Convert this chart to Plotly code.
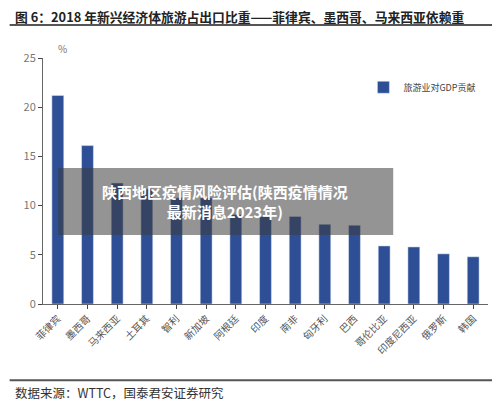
import plotly.graph_objects as go

categories = ["菲律宾","墨西哥","马来西亚","土耳其","智利","新加坡","阿根廷","印度","南非","匈牙利","巴西","哥伦比亚","印度尼西亚","俄罗斯","韩国"]
values = [21.2, 16.1, 12.3, 11.7, 10.8, 10.8, 9.1, 8.9, 8.9, 8.1, 8.0, 5.9, 5.8, 5.1, 4.8]
series_name = "旅游业对GDP贡献"

serif = "Noto Sans CJK SC"
fig = go.Figure(go.Bar(x=categories, y=values, name=series_name, marker_color="#2E4F96", width=0.4, showlegend=True))
fig.update_layout(
    width=492, height=396, margin=dict(l=35, r=12, t=50, b=100, autoexpand=False),
    paper_bgcolor="white", plot_bgcolor="white",
    font=dict(family=serif, color="#666", size=10),
    legend=dict(x=0.72, y=0.94, xanchor="left", yanchor="top", font=dict(size=9, color="#444"), itemwidth=30),
    yaxis=dict(range=[0, 25], dtick=5, ticks="outside", ticklen=4, showline=True, linecolor="#666", showgrid=False, automargin=False, tickfont=dict(size=11, color="#777")),
    xaxis=dict(tickangle=-45, ticks="outside", ticklen=4, showline=True, linecolor="#666", automargin=False, tickfont=dict(size=10, color="#555")),
    shapes=[
        dict(type="line", xref="paper", yref="paper", x0=-0.075, x1=1.015, y0=1.134, y1=1.134, line=dict(color="#555", width=2)),
        dict(type="line", xref="paper", yref="paper", x0=-0.075, x1=1.015, y0=-0.31, y1=-0.31, line=dict(color="#555", width=2)),
        dict(type="rect", xref="paper", yref="paper", x0=0.034, x1=0.787, y0=0.28, y1=0.553, fillcolor="rgba(60,60,60,0.55)", line=dict(width=0), layer="above"),
    ],
    annotations=[
        dict(text="<b>图 6：2018 年新兴经济体旅游占出口比重——菲律宾、墨西哥、马来西亚依赖重</b>", xref="paper", yref="paper", x=-0.068, y=1.168, xanchor="left", yanchor="middle", showarrow=False, font=dict(size=12.8, color="#222")),
        dict(text="%", xref="paper", yref="paper", x=0.03, y=1.0, xanchor="left", yanchor="bottom", showarrow=False, font=dict(size=10, color="#777")),
        dict(text="<b>陕西地区疫情风险评估(陕西疫情情况<br>最新消息2023年)</b>", xref="paper", yref="paper", x=0.41, y=0.415, xanchor="center", yanchor="middle", showarrow=False, font=dict(size=15, color="white")),
        dict(text="数据来源：WTTC，国泰君安证券研究", xref="paper", yref="paper", x=-0.068, y=-0.36, xanchor="left", yanchor="middle", showarrow=False, font=dict(size=12.5, color="#333")),
    ],
)
fig.write_html("out.html")
